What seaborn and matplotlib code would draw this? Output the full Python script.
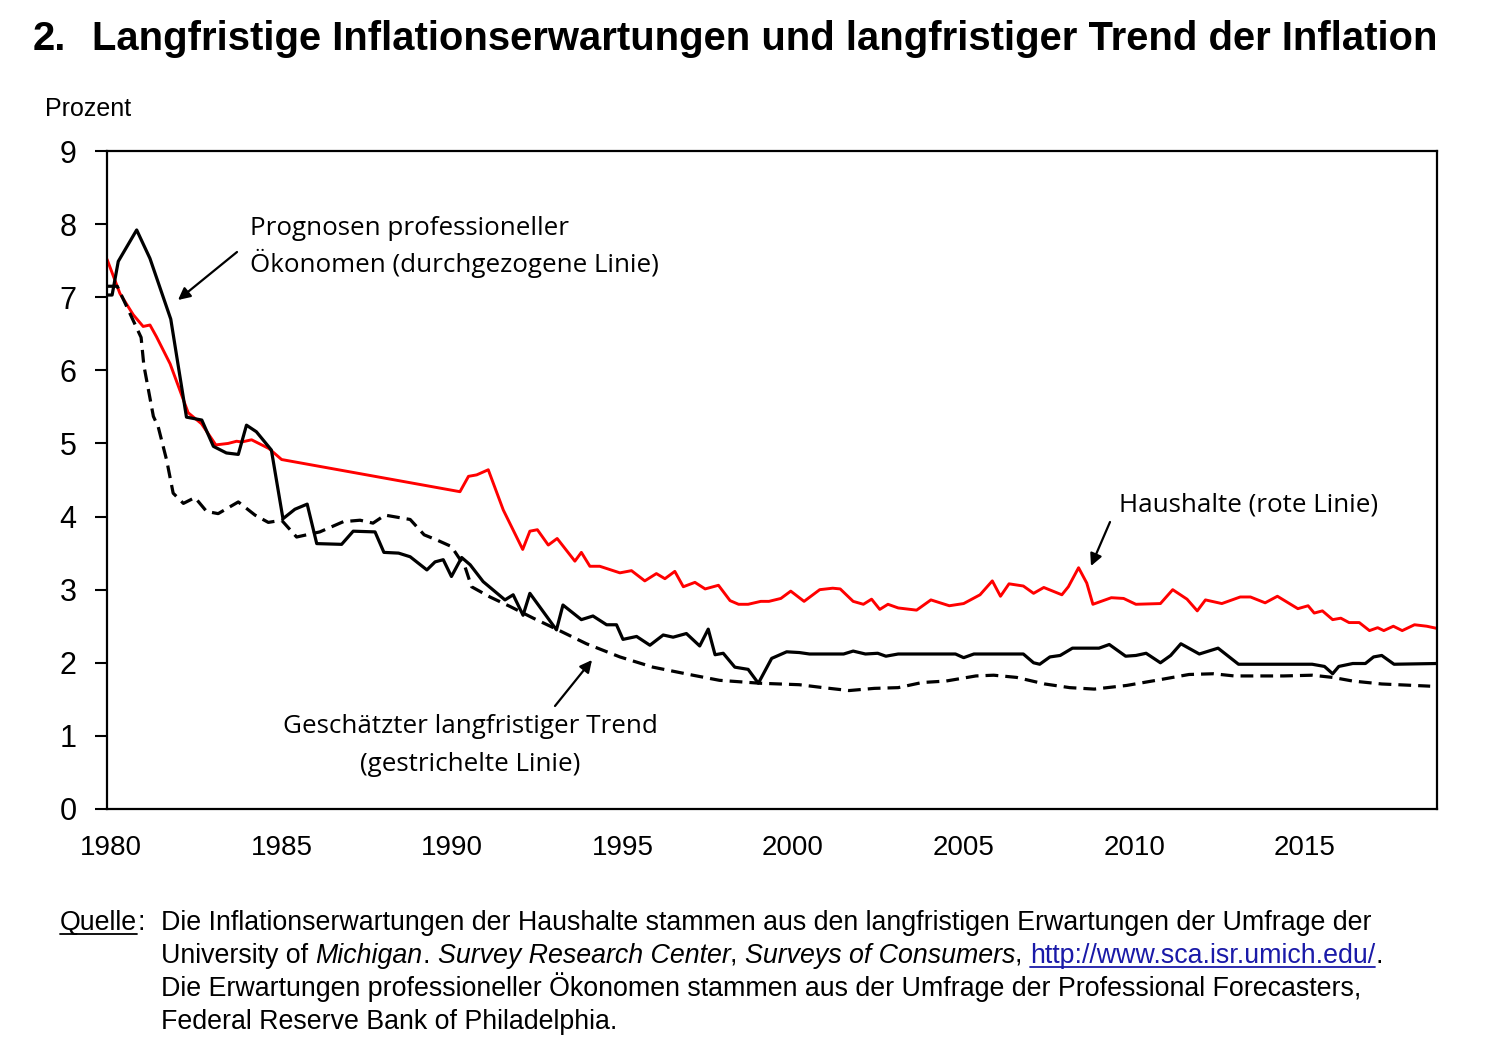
import matplotlib.pyplot as plt
import matplotlib.lines as mlines
from matplotlib.transforms import ScaledTranslation
import seaborn as sns

# values (decimal years, percent)
prof_years = [1980.0, 1980.15, 1980.33, 1980.87, 1981.26, 1981.87, 1982.33, 1982.78, 1983.12, 1983.5,
              1983.85, 1984.09, 1984.38, 1984.82, 1985.16, 1985.51, 1985.87, 1986.15, 1986.88, 1987.22,
              1987.86, 1988.12, 1988.55, 1988.89, 1989.38, 1989.62, 1989.86, 1990.1, 1990.4, 1990.65,
              1991.03, 1991.67, 1991.91, 1992.2, 1992.4, 1993.18, 1993.37, 1993.91, 1994.25, 1994.65,
              1994.94, 1995.13, 1995.53, 1995.92, 1996.31, 1996.6, 1996.99, 1997.38, 1997.63, 1997.83,
              1998.07, 1998.41, 1998.8, 1999.1, 1999.49, 1999.93, 2000.3, 2000.6, 2001.6, 2001.88,
              2002.24, 2002.6, 2002.84, 2003.2, 2004.88, 2005.12, 2005.42, 2006.87, 2007.17, 2007.35,
              2007.65, 2007.95, 2008.31, 2009.09, 2009.39, 2009.87, 2010.17, 2010.47, 2010.89, 2011.19,
              2011.49, 2012.03, 2012.58, 2013.18, 2015.34, 2015.7, 2015.94, 2016.12, 2016.53, 2016.9,
              2017.14, 2017.38, 2017.74, 2019.0]
prof_values = [7.03, 7.03, 7.49, 7.92, 7.53, 6.70, 5.36, 5.32, 4.96, 4.87,
               4.85, 5.25, 5.16, 4.91, 3.97, 4.10, 4.17, 3.63, 3.62, 3.80,
               3.79, 3.51, 3.50, 3.45, 3.27, 3.38, 3.41, 3.18, 3.44, 3.34,
               3.11, 2.86, 2.93, 2.65, 2.95, 2.45, 2.79, 2.59, 2.64, 2.52,
               2.52, 2.32, 2.36, 2.24, 2.38, 2.35, 2.40, 2.23, 2.46, 2.11,
               2.13, 1.94, 1.91, 1.72, 2.06, 2.15, 2.14, 2.12, 2.12, 2.16,
               2.12, 2.13, 2.09, 2.12, 2.12, 2.07, 2.12, 2.12, 2.00, 1.98,
               2.08, 2.10, 2.20, 2.20, 2.25, 2.09, 2.10, 2.13, 2.00, 2.10,
               2.26, 2.12, 2.20, 1.98, 1.98, 1.95, 1.85, 1.95, 1.99, 1.99,
               2.08, 2.10, 1.98, 1.99]

hh_years = [1980.0, 1980.38, 1980.77, 1981.06, 1981.26, 1981.45, 1981.85, 1982.38, 1982.77, 1983.19,
            1983.55, 1983.8, 1983.95, 1984.24, 1984.75, 1985.12, 1990.35, 1990.6, 1990.84, 1991.18,
            1991.62, 1992.19, 1992.4, 1992.62, 1992.94, 1993.2, 1993.72, 1993.91, 1994.16, 1994.45,
            1995.04, 1995.38, 1995.77, 1996.11, 1996.36, 1996.65, 1996.9, 1997.24, 1997.54, 1997.93,
            1998.27, 1998.52, 1998.8, 1999.17, 1999.41, 1999.76, 2000.05, 2000.44, 2000.9, 2001.28,
            2001.5, 2001.88, 2002.18, 2002.42, 2002.66, 2002.9, 2003.2, 2003.74, 2004.16, 2004.7,
            2005.12, 2005.6, 2005.96, 2006.2, 2006.45, 2006.87, 2007.17, 2007.47, 2008.0, 2008.19,
            2008.49, 2008.73, 2008.91, 2009.45, 2009.81, 2010.17, 2010.89, 2011.25, 2011.67, 2011.97,
            2012.21, 2012.69, 2013.23, 2013.53, 2013.96, 2014.32, 2014.92, 2015.22, 2015.4, 2015.64,
            2015.94, 2016.18, 2016.42, 2016.72, 2017.02, 2017.26, 2017.44, 2017.72, 2017.98, 2018.34,
            2018.7, 2019.0]
hh_values = [7.52, 7.05, 6.76, 6.60, 6.62, 6.46, 6.09, 5.42, 5.27, 4.98,
             5.00, 5.03, 5.02, 5.05, 4.93, 4.78, 4.34, 4.55, 4.57, 4.64,
             4.09, 3.55, 3.80, 3.82, 3.61, 3.70, 3.39, 3.51, 3.32, 3.32,
             3.23, 3.26, 3.12, 3.22, 3.15, 3.25, 3.04, 3.10, 3.01, 3.06,
             2.85, 2.80, 2.80, 2.84, 2.84, 2.88, 2.98, 2.84, 3.00, 3.02,
             3.01, 2.84, 2.80, 2.87, 2.73, 2.80, 2.75, 2.72, 2.86, 2.78,
             2.81, 2.93, 3.12, 2.91, 3.08, 3.05, 2.95, 3.03, 2.93, 3.04,
             3.30, 3.09, 2.80, 2.89, 2.88, 2.80, 2.81, 3.00, 2.87, 2.71,
             2.86, 2.81, 2.90, 2.90, 2.82, 2.91, 2.74, 2.78, 2.68, 2.71,
             2.59, 2.61, 2.55, 2.55, 2.44, 2.48, 2.44, 2.50, 2.44, 2.52,
             2.50, 2.47]

trend_years = [1980.0, 1980.3, 1980.75, 1981.0, 1981.08, 1981.36, 1981.5, 1981.75, 1981.94, 1982.24,
               1982.58, 1982.92, 1983.26, 1983.85, 1984.34, 1984.73, 1985.12, 1985.56, 1986.24, 1986.93,
               1987.42, 1987.8, 1988.15, 1988.89, 1989.3, 1989.67, 1990.1, 1990.5, 1990.69, 1991.23,
               1991.82, 1992.5, 1993.18, 1994.06, 1995.04, 1996.01, 1997.18, 1997.96, 1999.15, 2000.3,
               2001.0, 2001.76, 2002.5, 2003.2, 2003.9, 2004.6, 2005.48, 2006.0, 2006.67, 2007.5,
               2008.23, 2008.95, 2009.9, 2010.89, 2011.73, 2012.45, 2013.05, 2014.5, 2015.34, 2015.94,
               2016.53, 2017.38, 2018.8]
trend_values = [7.15, 7.15, 6.70, 6.45, 6.07, 5.37, 5.23, 4.77, 4.32, 4.18,
                4.26, 4.07, 4.04, 4.20, 4.02, 3.92, 3.95, 3.72, 3.79, 3.93,
                3.95, 3.91, 4.02, 3.96, 3.75, 3.68, 3.59, 3.31, 3.04, 2.90,
                2.77, 2.61, 2.46, 2.26, 2.08, 1.94, 1.83, 1.76, 1.72, 1.70,
                1.66, 1.62, 1.65, 1.66, 1.73, 1.75, 1.82, 1.83, 1.80, 1.71,
                1.66, 1.64, 1.69, 1.77, 1.84, 1.85, 1.82, 1.82, 1.83, 1.80,
                1.75, 1.71, 1.68]

year_ticks = [1980, 1985, 1990, 1995, 2000, 2005, 2010, 2015]
pct_ticks = [0, 1, 2, 3, 4, 5, 6, 7, 8, 9]

title_num = "2."
title_text = "Langfristige Inflationserwartungen und langfristiger Trend der Inflation"
foot_label = "Quelle"
foot_lines = [
    [("Die Inflationserwartungen der Haushalte stammen aus den langfristigen Erwartungen der Umfrage der", "plain")],
    [("University of ", "plain"), ("Michigan", "italic"), (". ", "plain"),
     ("Survey Research Center", "italic"), (", ", "plain"), ("Surveys of Consumers", "italic"),
     (", ", "plain"), ("http://www.sca.isr.umich.edu/", "link"), (".", "plain")],
    [("Die Erwartungen professioneller Ökonomen stammen aus der Umfrage der Professional Forecasters,", "plain")],
    [("Federal Reserve Bank of Philadelphia.", "plain")],
]

sns.set_style("white")
plt.rcParams["font.family"] = ["Liberation Sans", "DejaVu Sans"]
plt.rcParams.update({"text.color": "black", "xtick.color": "black", "ytick.color": "black",
                     "axes.labelcolor": "black"})

W, H = 1492, 1054
fig, ax = plt.subplots(figsize=(W / 100, H / 100), dpi=100)
fig.subplots_adjust(left=107 / W, right=1437 / W, top=1 - 151 / H, bottom=1 - 809 / H)


def px(x, y):
    # figure pixels (from top left) -> figure fraction
    return x / W, 1 - y / H


sns.lineplot(x=hh_years, y=hh_values, ax=ax, color="#ff0000", lw=2.1, estimator=None, sort=False)
sns.lineplot(x=trend_years, y=trend_values, ax=ax, color="black", lw=2.3,
             linestyle=(0, (4, 2.2)), estimator=None, sort=False)
sns.lineplot(x=prof_years, y=prof_values, ax=ax, color="black", lw=2.3, estimator=None, sort=False)

ax.set(xlim=(1980, 2019), ylim=(0, 9), xlabel="", ylabel="")
ax.set_xticks(year_ticks)
ax.set_xticks([1980], minor=True)
ax.set_yticks(pct_ticks)
for s in ax.spines.values():
    s.set_color("black")
    s.set_linewidth(1.6)
ax.tick_params(axis="y", left=True, direction="out", length=9, width=1.5, pad=13, labelsize=22)
ax.tick_params(axis="x", which="major", bottom=False, length=0, pad=19, labelsize=20)
ax.tick_params(axis="x", which="minor", bottom=True, direction="out", length=9, width=1.5)
shift = ScaledTranslation(4 / 100, 0, fig.dpi_scale_trans)
for lab in ax.get_xticklabels():
    lab.set_transform(lab.get_transform() + shift)

# titles
fig.text(*px(33, 50), title_num, fontsize=28.8, fontweight="bold", va="baseline")
fig.text(*px(92, 50), title_text, fontsize=28.8, fontweight="bold", va="baseline")
fig.text(*px(45, 116), "Prozent", fontsize=18, va="baseline")

# annotations
ann_font = ["Open Sans", "DejaVu Sans"]
AS = 18.7
fig.text(*px(250, 235), "Prognosen professioneller", fontsize=AS, family=ann_font, va="baseline")
fig.text(*px(250, 272), "Ökonomen (durchgezogene Linie)", fontsize=AS, family=ann_font, va="baseline")
fig.text(*px(1119, 511), "Haushalte (rote Linie)", fontsize=AS, family=ann_font, va="baseline")
fig.text(*px(470, 733), "Geschätzter langfristiger Trend", fontsize=AS, family=ann_font,
         va="baseline", ha="center")
fig.text(*px(470, 771), "(gestrichelte Linie)", fontsize=AS, family=ann_font, va="baseline", ha="center")

arrow = dict(arrowstyle="-|>", color="black", lw=1.6, mutation_scale=18, shrinkA=0, shrinkB=0)
for head, tail in [((178, 300), (237, 252)), ((1091, 566), (1110, 522)), ((592, 660), (555, 706))]:
    ax.annotate("", xy=px(*head), xycoords="figure fraction",
                xytext=px(*tail), textcoords="figure fraction", arrowprops=arrow)

# source note with mixed styles
renderer = fig.canvas.get_renderer()
FS = 19.25


def width_of(s, **kw):
    a = fig.text(0, 0, s + "|", fontsize=FS, **kw)
    b = fig.text(0, 0, "|", fontsize=FS, **kw)
    w = a.get_window_extent(renderer).width - b.get_window_extent(renderer).width
    a.remove()
    b.remove()
    return w


def underline(x0, x1, y, color):
    fig.add_artist(mlines.Line2D([x0 / W, x1 / W], [1 - y / H, 1 - y / H], color=color, lw=1.3,
                                 transform=fig.transFigure))


fig.text(*px(60, 930), foot_label, fontsize=FS, va="baseline")
wq = width_of(foot_label)
underline(60, 60 + wq, 934, "black")
fig.text(*px(60 + wq, 930), ":", fontsize=FS, va="baseline")

link_color = "#1a1aa8"
for i, runs in enumerate(foot_lines):
    y = 930 + i * 33
    x = 161
    for txt, kind in runs:
        kw = {}
        color = "black"
        if kind == "italic":
            kw["style"] = "italic"
        if kind == "link":
            color = link_color
        fig.text(*px(x, y), txt, fontsize=FS, va="baseline", color=color, **kw)
        w = width_of(txt, **kw)
        if kind == "link":
            underline(x, x + w, y + 4, link_color)
        x += w

fig.savefig("out.png", dpi=100)
